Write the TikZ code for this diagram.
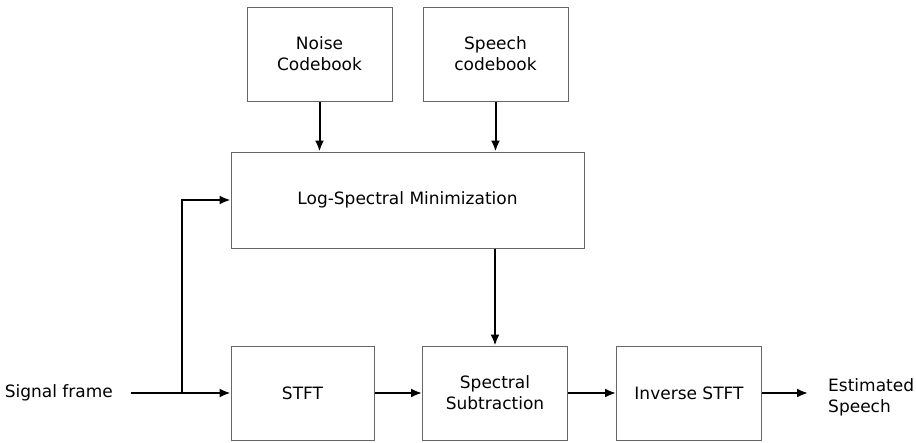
\documentclass[tikz,border=0pt]{standalone}
\usepackage{fontspec}
\setmainfont{DejaVu Sans}
\usetikzlibrary{calc,arrows.meta}

\begin{document}
\begin{tikzpicture}[x=1pt,y=-1pt,
    font=\fontsize{17}{21}\selectfont,
    blockbox/.style={draw=black!60, line width=1pt, minimum width=145pt,
      minimum height=94pt, align=center, inner sep=0pt},
    flow/.style={line width=2pt, -{Latex[length=11pt,width=9pt]}}]
    \useasboundingbox (0,0) rectangle (916,442);
    % boxes at the top
    \node[blockbox] (noise) at (319.5,54) {Noise\\Codebook};
    \node[blockbox] (speech) at (495.5,54) {Speech\\codebook};
    \node[blockbox, minimum width=353pt, minimum height=96pt] (lsm)
        at (407.5,200) {Log-Spectral Minimization};
    % processing chain
    \node[blockbox, minimum width=143pt] (stft) at (302.5,393) {STFT};
    \node[blockbox] (spsub) at (495,393) {Spectral\\Subtraction};
    \node[blockbox] (istft) at (689,393) {Inverse STFT};
    \node[anchor=east, inner xsep=18pt] (sig) at (131,393) {Signal frame};
    \node[anchor=west, align=left, inner xsep=20pt] (est) at (808,397)
        {Estimated\\Speech};
    \coordinate (split) at (182,393);
    % connectors
    \draw[flow] (noise) -- (noise |- lsm.north);
    \draw[flow] (speech) -- (speech |- lsm.north);
    \draw[flow] (spsub.north |- lsm.south) -- (spsub);
    \draw[flow] (sig.east) -- (stft.west);
    \draw[flow] (split) |- (lsm.west);
    \draw[flow] (stft) -- (spsub);
    \draw[flow] (spsub) -- (istft);
    \draw[flow] (istft) -- (istft.east -| est.west);
\end{tikzpicture}
\end{document}
